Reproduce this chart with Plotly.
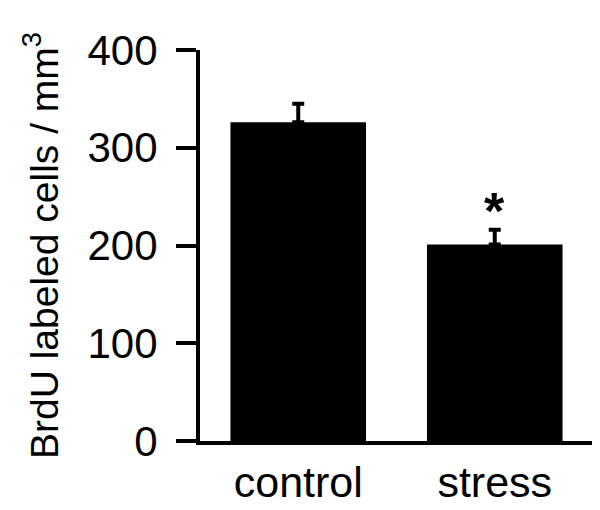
import plotly.graph_objects as go

categories = ["control", "stress"]
means = [326, 201]
sem = [19, 15]
significance = ["", "*"]
y_ticks = [0, 100, 200, 300, 400]

FONT = "Liberation Sans, Arial, Helvetica, sans-serif"

fig = go.Figure()
fig.add_trace(go.Bar(
    x=categories, y=means,
    marker=dict(color="black", line=dict(width=0)),
    error_y=dict(type="data", array=sem, arrayminus=[0] * len(sem), symmetric=False,
                 color="black", thickness=4, width=6),
    width=0.69,
    showlegend=False,
))

for c, m, e, s in zip(categories, means, sem, significance):
    if s:
        fig.add_annotation(x=c, y=m + e, text="<b>" + s + "</b>", showarrow=False, yanchor="bottom",
                           yshift=-12, font=dict(family=FONT, size=52, color="black"))

fig.update_layout(
    width=600, height=510,
    margin=dict(l=192, r=15, t=42, b=77),
    paper_bgcolor="white", plot_bgcolor="white",
    font=dict(family=FONT, color="black"),
    xaxis=dict(
        type="category", range=[-0.5, 1.5], automargin=False,
        showline=True, linecolor="black", linewidth=4,
        ticks="", showgrid=False, zeroline=False,
        tickfont=dict(size=43, family=FONT, color="black"),
    ),
    xaxis2=dict(
        overlaying="x", anchor="y", range=[-0.5, 1.5], automargin=False,
        tickvals=[0.5], ticks="outside", ticklen=10, tickwidth=4, tickcolor="black",
        showticklabels=False, showline=False, showgrid=False, zeroline=False,
        side="bottom",
    ),
    yaxis=dict(
        range=[0, 400], tickvals=y_ticks, automargin=False,
        showline=True, linecolor="black", linewidth=4,
        ticks="outside", ticklen=20, tickwidth=4, tickcolor="black",
        showgrid=False, zeroline=False,
        tickfont=dict(size=42, family=FONT, color="black"),
        ticklabelstandoff=10,
        title=dict(text="BrdU labeled cells / mm<sup>3</sup>",
                   font=dict(size=39, family=FONT, color="black"), standoff=18),
    ),
)

fig.write_html("out.html")
